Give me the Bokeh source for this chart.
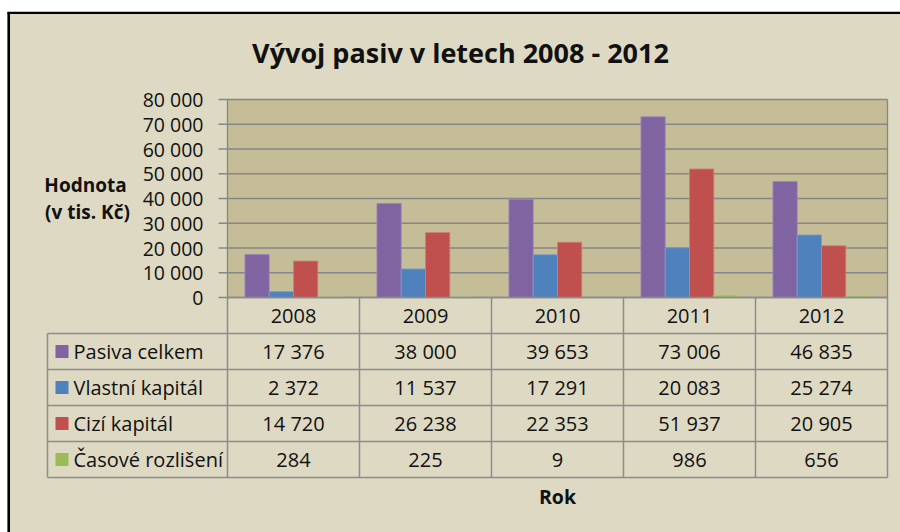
from bokeh.plotting import figure
from bokeh.models import Range1d, ColumnDataSource
from bokeh.transform import dodge
from bokeh.embed import file_html
from bokeh.resources import INLINE
from bokeh.core.properties import value

# ---------------- data ----------------
years = ["2008", "2009", "2010", "2011", "2012"]
series = ["Pasiva celkem", "Vlastní kapitál", "Cizí kapitál", "Časové rozlišení"]
pasiva_celkem = [17376, 38000, 39653, 73006, 46835]
vlastni_kapital = [2372, 11537, 17291, 20083, 25274]
cizi_kapital = [14720, 26238, 22353, 51937, 20905]
casove_rozliseni = [284, 225, 9, 986, 656]
y_ticks = [0, 10000, 20000, 30000, 40000, 50000, 60000, 70000, 80000]
y_tick_labels = ["0", "10 000", "20 000", "30 000", "40 000", "50 000", "60 000", "70 000", "80 000"]
chart_title = "Vývoj pasiv v letech 2008 - 2012"
y_title_lines = ["Hodnota", "(v tis. Kč)"]
x_title = "Rok"

# ---------------- style / layout (pixels) ----------------
colors = ["#8064A2", "#4F81BD", "#C0504D", "#9BBB59"]
edge_colors = ["#9C86BA", "#7A9FCE", "#D27D7A", "#B5CE85"]
CHART_BG = "#DDD9C3"
PLOT_BG = "#C4BD97"
GRID = "#868686"
TABLE_LINE = "#8C8C8C"
TXT = "#111111"
FONT = "Open Sans"

PX_W, PX_H = 900, 532
PLOT_L, PLOT_R, PLOT_T, PLOT_B = 227, 887, 99, 297
LAB_L = 47
ROW_H = 36.0

values = [pasiva_celkem, vlastni_kapital, cizi_kapital, casove_rozliseni]
keys = ["s%d" % i for i in range(len(series))]
n_y = len(years)
n_s = len(series)
n_rows = n_s + 1
COL_W = (PLOT_R - PLOT_L) / n_y
Y_MAX = y_ticks[-1]
v_per_px = Y_MAX / (PLOT_B - PLOT_T)

p = figure(width=PX_W, height=PX_H,
           x_range=Range1d(-PLOT_L / COL_W, (PX_W - PLOT_L) / COL_W),
           y_range=Range1d(-(PX_H - PLOT_B) * v_per_px, PLOT_B * v_per_px),
           x_axis_location=None, y_axis_location=None,
           output_backend="svg", toolbar_location=None,
           min_border=0, min_border_left=0, min_border_right=0,
           min_border_top=0, min_border_bottom=0,
           background_fill_color="white", border_fill_color="white",
           outline_line_color=None)
p.grid.visible = False
p.extra_x_ranges = {"px": Range1d(0, PX_W)}
p.extra_y_ranges = {"px": Range1d(PX_H, 0),
                    "table": Range1d((PX_H - PLOT_B) / ROW_H, -PLOT_B / ROW_H)}

# chart area background and black frame (top / left visible)
p.quad(left=[8], right=[PX_W + 5], top=[12], bottom=[PX_H + 5],
       x_range_name="px", y_range_name="px", fill_color=CHART_BG, line_color=None)
p.segment(x0=[8.2], y0=[11.5], x1=[8.2], y1=[PX_H + 5], x_range_name="px", y_range_name="px",
          line_color="black", line_width=2.6)
p.segment(x0=[7], y0=[12.3], x1=[PX_W + 5], y1=[12.3], x_range_name="px", y_range_name="px",
          line_color="black", line_width=2.2)

# plot area
p.quad(left=[0], right=[n_y], bottom=[0], top=[Y_MAX], fill_color=PLOT_BG, line_color=None)
# gridlines + tick marks
tick_len = 9 / COL_W
p.segment(x0=[-tick_len] * len(y_ticks), y0=y_ticks, x1=[n_y] * len(y_ticks), y1=y_ticks,
          line_color=GRID, line_width=1.3)
p.segment(x0=[0, n_y], y0=[0, 0], x1=[0, n_y], y1=[Y_MAX, Y_MAX], line_color=GRID, line_width=1.3)

# bars
data = dict(xc=[i + 0.5 for i in range(n_y)])
for k, v in zip(keys, values):
    data[k] = v
src = ColumnDataSource(data)
bar_w = 0.184
for i, (k, col, ec) in enumerate(zip(keys, colors, edge_colors)):
    off = (i - (n_s - 1) / 2) * bar_w
    p.vbar(x=dodge("xc", off), top=k, width=bar_w, bottom=0, source=src,
           fill_color=col, line_color=ec, line_width=1, line_alpha=0.8)

# y tick labels
p.text(x=[-(9 + 15) / COL_W] * len(y_ticks), y=y_ticks, text=y_tick_labels,
       text_align="right", text_baseline="middle", text_font=value(FONT),
       text_font_size=value("19.5px"), text_color=TXT)

# titles
p.text(x=[460], y=[51.5], text=[chart_title], x_range_name="px", y_range_name="px",
       text_align="center", text_baseline="middle", text_font=value(FONT),
       text_font_size=value("27px"), text_font_style=value("bold"), text_color=TXT)
p.text(x=[85, 87], y=[184.2, 211.8], text=y_title_lines, x_range_name="px", y_range_name="px",
       text_align="center", text_baseline="middle", text_font=value(FONT),
       text_font_size=value("19px"), text_font_style=value("bold"), text_color=TXT)
p.text(x=[(PLOT_L + PLOT_R) / 2], y=[495.5], text=[x_title], x_range_name="px", y_range_name="px",
       text_align="center", text_baseline="middle", text_font=value(FONT),
       text_font_size=value("19.5px"), text_font_style=value("bold"), text_color=TXT)

# ---------------- data table ----------------
lab_left = (LAB_L - PLOT_L) / COL_W
hx0, hx1, hy = [], [], []
for r in range(n_rows + 1):
    hx0.append(0 if r == 0 else lab_left)
    hx1.append(n_y)
    hy.append(r)
p.segment(x0=hx0, y0=hy, x1=hx1, y1=hy, y_range_name="table",
          line_color=TABLE_LINE, line_width=1.5)
vx, vy0, vy1 = [], [], []
for c in range(n_y + 1):
    vx.append(c); vy0.append(0); vy1.append(n_rows)
vx.append(lab_left); vy0.append(1); vy1.append(n_rows)
p.segment(x0=vx, y0=vy0, x1=vx, y1=vy1, y_range_name="table",
          line_color=TABLE_LINE, line_width=1.5)

p.text(x=[c + 0.5 for c in range(n_y)], y=[0.5] * n_y, text=years, y_range_name="table",
       text_align="center", text_baseline="middle", text_font=value(FONT),
       text_font_size=value("20px"), text_color=TXT)

cx, cy, ct = [], [], []
for i, vals in enumerate(values):
    for c, v in enumerate(vals):
        cx.append(c + 0.5)
        cy.append(i + 1.5)
        ct.append(format(v, ",").replace(",", " "))
p.text(x=cx, y=cy, text=ct, y_range_name="table", text_align="center",
       text_baseline="middle", text_font=value(FONT), text_font_size=value("20px"),
       text_color=TXT)

p.scatter(x=[lab_left + 14.5 / COL_W] * n_s, y=[i + 1.5 for i in range(n_s)],
          y_range_name="table", marker="square", size=13, fill_color=colors, line_color=None)
p.text(x=[lab_left + 26 / COL_W] * n_s, y=[i + 1.5 for i in range(n_s)], text=series,
       y_range_name="table", text_align="left", text_baseline="middle",
       text_font=value(FONT), text_font_size=value("20px"), text_color=TXT)

open("out.html", "w").write(file_html(p, INLINE))
